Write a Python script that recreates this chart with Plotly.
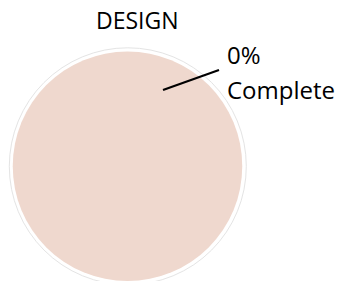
import plotly.graph_objects as go

W, H = 337, 281
title_text = "DESIGN"
labels = ["Complete", "Remaining"]
values = [0, 100]
colors = ["#C9836A", "#EFD8CE"]

pct = round(100 * values[0] / sum(values))
FONT = "Open Sans"

fig = go.Figure()
fig.add_trace(go.Pie(
    labels=labels,
    values=values,
    marker=dict(colors=colors, line=dict(width=0)),
    textinfo="none",
    hoverinfo="label+percent",
    sort=False,
    showlegend=False,
    domain=dict(x=[12.5 / W, 242.5 / W], y=[0, (H - 51.5) / H]),
))

# faint outer ring
cx, cy, r = 127.8, 166.3, 118.5
fig.add_shape(type="circle", xref="paper", yref="paper",
              x0=(cx - r) / W, x1=(cx + r) / W,
              y0=(H - cy - r) / H, y1=(H - cy + r) / H,
              line=dict(color="#e4e4e4", width=1), layer="below")

# leader line
fig.add_shape(type="line", xref="paper", yref="paper",
              x0=163 / W, y0=(H - 90) / H, x1=219 / W, y1=(H - 70) / H,
              line=dict(color="black", width=2.2))

fig.add_annotation(text=title_text, xref="paper", yref="paper",
                   x=137.5 / W, y=(H - 20) / H, xanchor="center", yanchor="middle",
                   showarrow=False, font=dict(family=FONT, size=23, color="black"))
fig.add_annotation(text=f"{pct}%", xref="paper", yref="paper",
                   x=225 / W, y=(H - 54) / H, xanchor="left", yanchor="middle",
                   showarrow=False, font=dict(family=FONT, size=24, color="black"))
fig.add_annotation(text=labels[0], xref="paper", yref="paper",
                   x=224.5 / W, y=(H - 89) / H, xanchor="left", yanchor="middle",
                   showarrow=False, font=dict(family=FONT, size=24, color="black"))

fig.update_layout(width=W, height=H, margin=dict(l=0, r=0, t=0, b=0),
                  paper_bgcolor="white", plot_bgcolor="white",
                  font=dict(family=FONT))
fig.write_html("out.html", config={"displayModeBar": False},
               post_script="document.body.style.margin='0';document.body.style.overflow='hidden';")
